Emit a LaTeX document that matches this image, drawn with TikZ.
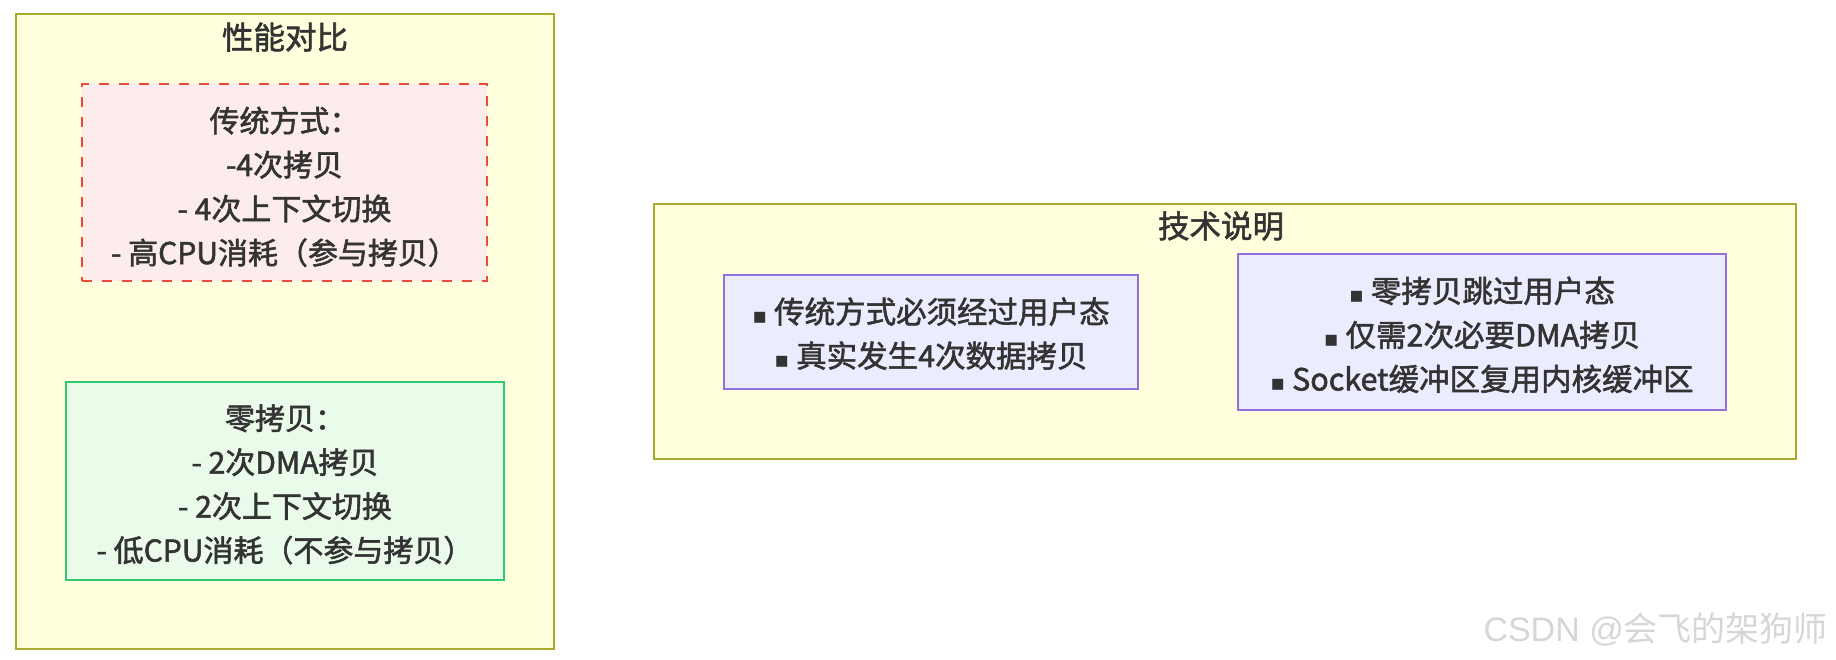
\documentclass[tikz,border=0pt]{standalone}
\usepackage{fontspec}
\setmainfont{Noto Sans CJK SC}[FakeBold=1.8]
\newfontfamily\symfont{DejaVu Sans}
\newfontfamily\wmfont{Liberation Sans}
\newfontfamily\wmcjk{Noto Sans CJK SC}
\usetikzlibrary{positioning}

\definecolor{groupfill}{HTML}{FFFFDE}
\definecolor{groupline}{HTML}{AAAA33}
\definecolor{oldfill}{HTML}{FDECEC}
\definecolor{oldline}{HTML}{E74C3C}
\definecolor{zerofill}{HTML}{EAFBEA}
\definecolor{zeroline}{HTML}{2ECC71}
\definecolor{notefill}{HTML}{ECECFF}
\definecolor{noteline}{HTML}{9370DB}
\definecolor{txt}{HTML}{333333}

\newcommand{\blt}{{\symfont\fontsize{22}{22}\selectfont ▪}\ }
% taller first line pushes the text a little down in its box
\newcommand{\toprule}[1]{\rule{0pt}{#1pt}}

\tikzset{
  group/.style={draw=groupline,fill=groupfill,line width=2pt,inner sep=0pt},
  title/.style={text=txt,inner sep=0pt,font=\fontsize{31.5}{32}\selectfont},
  oldbox/.style={draw=oldline,fill=oldfill,line width=2pt,dash pattern=on 10pt off 10pt,
    text=txt,align=center,font=\fontsize{30}{44}\selectfont},
  zerobox/.style={draw=zeroline,fill=zerofill,line width=2pt,
    text=txt,align=center,font=\fontsize{30}{44}\selectfont},
  notebox/.style={draw=noteline,fill=notefill,line width=2pt,
    text=txt,align=center,font=\fontsize{30.5}{44}\selectfont},
  csdn/.style={text=black!16,inner sep=0pt,font=\wmcjk\fontsize{34}{36}\selectfont}
}

\begin{document}
\begin{tikzpicture}[x=1pt,y=-1pt]
\useasboundingbox (0,0) rectangle (1836,660);

% left group
\node [group,minimum width=538pt,minimum height=635pt] at (285,331.5) (perf) {};
\node [title] at (285,37) (perftitle) {性能对比};
\node [oldbox,minimum width=405pt,minimum height=197pt] at (284.5,182.5) (old)
  {\toprule{34}传统方式：\\-4次拷贝\\- 4次上下文切换\\- 高CPU消耗（参与拷贝）};
\node [zerobox,minimum width=438pt,minimum height=198pt] at (285,481) (zero)
  {\toprule{32}零拷贝：\\- 2次DMA拷贝\\- 2次上下文切换\\- 低CPU消耗（不参与拷贝）};

% right group
\node [group,minimum width=1142pt,minimum height=255pt] at (1225,331.5) (tech) {};
\node [title] at (1221,226) (techtitle) {技术说明};
\node [notebox,minimum width=414pt,minimum height=114pt] at (931,332) (oldnote)
  {\toprule{29}\blt 传统方式必须经过用户态\\\blt 真实发生4次数据拷贝};
\node [notebox,minimum width=488pt,minimum height=156pt] at (1482,332) (zeronote)
  {\toprule{31.5}\blt 零拷贝跳过用户态\\\blt 仅需2次必要DMA拷贝\\\blt Socket缓冲区复用内核缓冲区};

\node [csdn,anchor=east] at (1828,629) (wm) {{\wmfont CSDN @}会飞的架狗师};

\end{tikzpicture}
\end{document}
